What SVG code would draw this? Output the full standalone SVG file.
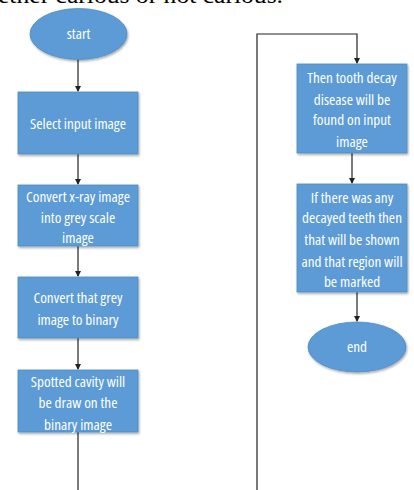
<svg xmlns="http://www.w3.org/2000/svg" width="414" height="490" viewBox="0 0 414 490">
<defs>
<marker id="ah" markerWidth="6" markerHeight="6" refX="5" refY="3" orient="auto" markerUnits="userSpaceOnUse">
<path d="M0,0 L6,3 L0,6 z" fill="#222"/>
</marker>
<filter id="sh" x="-10%" y="-10%" width="125%" height="130%">
<feDropShadow dx="1" dy="1.5" stdDeviation="1" flood-color="#000" flood-opacity="0.35"/>
</filter>
</defs>
<style>
.n{fill:#5B9BD5;stroke:#4F8CC4;stroke-width:0.8;filter:url(#sh)}
.t{fill:#fff;font-family:"Open Sans","Liberation Sans",sans-serif;font-size:15.2px;text-anchor:middle;font-stretch:condensed}
.c{fill:none;stroke:#222;stroke-width:1.2}
.top{font-family:"Liberation Serif",serif;font-size:24px;fill:#000}
</style>
<rect width="414" height="490" fill="#fff"/>
<text class="top" x="-2" y="2.5" textLength="285" lengthAdjust="spacingAndGlyphs">ether carious or not carious.</text>
<g id="connectors">
<line class="c" x1="78" y1="59" x2="78" y2="91" marker-end="url(#ah)"/>
<line class="c" x1="78" y1="154" x2="78" y2="184" marker-end="url(#ah)"/>
<line class="c" x1="78" y1="246" x2="78" y2="276" marker-end="url(#ah)"/>
<line class="c" x1="78" y1="338" x2="78" y2="369" marker-end="url(#ah)"/>
<line class="c" x1="78" y1="432" x2="78" y2="490"/>
<polyline class="c" points="257,490 257,34 357,34 357,63" marker-end="url(#ah)"/>
<line class="c" x1="352" y1="153" x2="352" y2="183" marker-end="url(#ah)"/>
<line class="c" x1="357" y1="292" x2="357" y2="321" marker-end="url(#ah)"/>
</g>
<g id="start">
<ellipse class="n" cx="78.5" cy="34" rx="48.5" ry="25.5"/>
<text class="t" x="78.5" y="39">start</text>
</g>
<g id="select">
<rect class="n" x="18" y="92" width="120" height="62"/>
<text class="t" x="78" y="129">Select input image</text>
</g>
<g id="grey">
<rect class="n" x="18" y="185" width="120" height="61"/>
<text class="t" x="78" y="202">Convert x-ray image</text>
<text class="t" x="78" y="223">into grey scale</text>
<text class="t" x="78" y="243">image</text>
</g>
<g id="binary">
<rect class="n" x="18" y="277" width="120" height="61"/>
<text class="t" x="78" y="303">Convert that grey</text>
<text class="t" x="78" y="325">image to binary</text>
</g>
<g id="cavity">
<rect class="n" x="18" y="370" width="120" height="62"/>
<text class="t" x="78" y="387">Spotted cavity will</text>
<text class="t" x="78" y="408">be draw on the</text>
<text class="t" x="78" y="430">binary image</text>
</g>
<g id="found">
<rect class="n" x="297" y="64" width="110" height="89"/>
<text class="t" x="352" y="83">Then tooth decay</text>
<text class="t" x="352" y="105">disease will be</text>
<text class="t" x="352" y="125">found on input</text>
<text class="t" x="352" y="147">image</text>
</g>
<g id="shown">
<rect class="n" x="297" y="184" width="110" height="108"/>
<text class="t" x="352" y="203">If there was any</text>
<text class="t" x="352" y="223">decayed teeth then</text>
<text class="t" x="352" y="245">that will be shown</text>
<text class="t" x="352" y="267">and that region will</text>
<text class="t" x="352" y="287">be marked</text>
</g>
<g id="end">
<ellipse class="n" cx="357" cy="347" rx="49" ry="25"/>
<text class="t" x="357" y="352">end</text>
</g>
</svg>
